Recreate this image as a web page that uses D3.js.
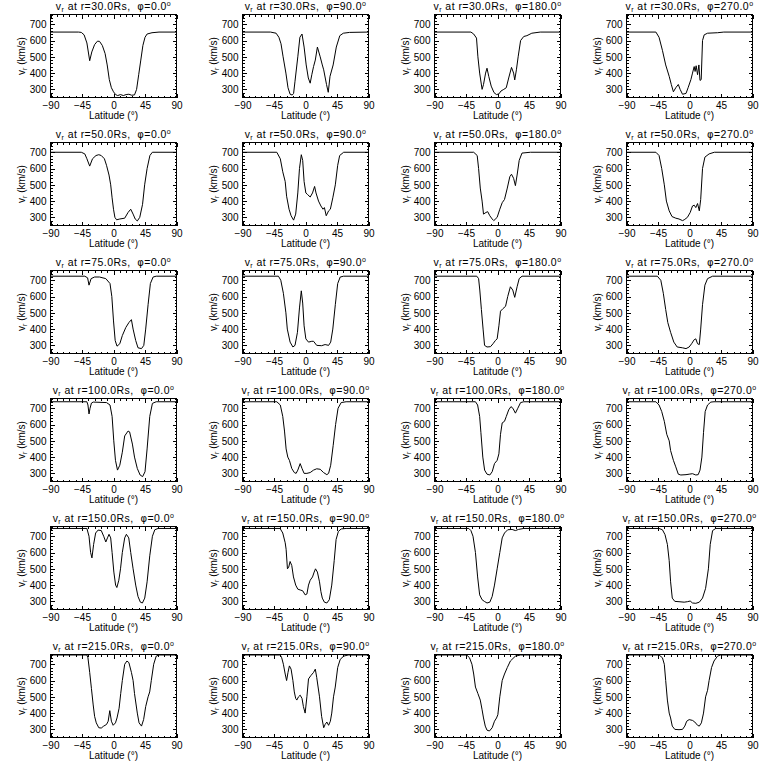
<!DOCTYPE html>
<html><head><meta charset="utf-8">
<script src="https://cdn.jsdelivr.net/npm/d3@7"></script>
<style>
body{margin:0;background:#fff}
svg{display:block}
text,tspan{font-family:"Liberation Sans",Arial,"DejaVu Sans",sans-serif;fill:#000}
</style>
</head><body>
<svg id="c" width="768" height="768"></svg>
<script>
const radii = [30, 50, 75, 100, 150, 215];
const phis = [0, 90, 180, 270];
const latTicks = [-90, -45, 0, 45, 90];
const vTicks = [300, 400, 500, 600, 700];
const latDomain = [-90, 90];
const vDomain = [250, 760];

// [latitude, v_r] samples
const r30_phi0 = [[-90,652],[-50,652],[-46,650],[-42,635],[-38,585],[-34,476],[-31,530],[-27,575],[-23,596],[-20,595],[-16,570],[-12,520],[-9,450],[-6,360],[-3,310],[0,285],[3,268],[6,262],[10,268],[14,262],[18,268],[22,270],[26,264],[30,266],[33,300],[36,390],[39,480],[42,570],[45,620],[48,640],[55,648],[65,652],[90,652]];
const r30_phi90 = [[-90,652],[-50,652],[-42,645],[-38,620],[-35,580],[-32,500],[-28,400],[-25,310],[-22,270],[-19,265],[-17,275],[-15,350],[-11,500],[-8,620],[-5,640],[-2,560],[1,450],[4,370],[6.7,338],[9,390],[11.5,440],[14,480],[17,560],[21,500],[24,450],[26,420],[30,330],[32.5,282],[35,380],[39.5,450],[44,560],[49,630],[54,645],[63,650],[90,652]];
const r30_phi180 = [[-90,652],[-38,652],[-34,640],[-30,615],[-28,500],[-25.5,400],[-22,300],[-20,330],[-17,400],[-15,430],[-12.5,380],[-9,320],[-5,280],[-1.5,268],[2,272],[5,290],[9,300],[12.5,310],[16,370],[20,435],[23,400],[24.6,358],[27,420],[29.5,500],[33,600],[37.5,625],[42,630],[49,645],[61,652],[90,652]];
const r30_phi270 = [[-90,652],[-48,652],[-43.5,620],[-38.7,540],[-34,450],[-29,380],[-26,330],[-23,285],[-19.6,310],[-16,330],[-13.4,300],[-10,270],[-5,275],[-2,310],[2,360],[4.3,400],[6.7,440],[8,410],[9.5,445],[11.5,390],[13.4,450],[15,355],[16.7,360],[18.6,600],[21,635],[25.8,645],[40,648],[49,652],[90,652]];

const r50_phi0 = [[-90,700],[-46,700],[-41,690],[-38,660],[-34,615],[-30,660],[-25,680],[-21,685],[-17.5,680],[-13,660],[-10,620],[-6.4,560],[-4,500],[-2,420],[0,350],[2,300],[4.4,285],[9,290],[16,295],[20.8,330],[24.6,350],[28,320],[31,290],[34,278],[37.5,300],[41.5,380],[44.5,500],[48,600],[52,680],[55.5,700],[90,700]];
const r50_phi90 = [[-90,700],[-41,700],[-36,660],[-32.5,580],[-29,520],[-27,430],[-23.5,350],[-20.6,310],[-17,283],[-14,320],[-11,450],[-8.6,600],[-6,685],[-4,650],[-2,520],[0.5,450],[3,440],[6.7,425],[10,450],[13,490],[15,450],[18.6,400],[22,370],[25,350],[27,360],[29.6,310],[33,340],[35.5,350],[39,420],[42.6,500],[46,620],[48.8,680],[54.5,700],[90,700]];
const r50_phi180 = [[-90,700],[-34,700],[-29,680],[-27,600],[-24.6,480],[-22,400],[-20,320],[-16.5,330],[-14,335],[-11,310],[-7.6,290],[-5.3,280],[-0.5,300],[3.3,350],[6.7,390],[10,410],[14,480],[17.6,550],[20,565],[23,540],[25.6,495],[28,560],[31,650],[35,695],[47,700],[90,700]];
const r50_phi270 = [[-90,700],[-48,700],[-43.5,680],[-39.7,600],[-36,500],[-33,400],[-29,340],[-25,305],[-19.6,295],[-15,290],[-10,280],[-7.6,285],[-3,300],[1,330],[4.3,370],[6.7,375],[9,360],[11.5,385],[14,340],[16,410],[18.6,600],[22,670],[28,690],[35.5,700],[90,700]];

const r75_phi0 = [[-90,725],[-41,725],[-37,715],[-35,670],[-32,710],[-27,720],[-20,720],[-11,710],[-5,680],[-2.4,600],[0,450],[2.4,330],[5,295],[9,310],[12.6,360],[17.6,410],[22,440],[25.6,458],[28,400],[31.7,330],[35,285],[40,280],[43.3,300],[46,400],[49.4,550],[52.7,680],[56.6,720],[61,725],[90,725]];
const r75_phi90 = [[-90,725],[-38.7,725],[-35.3,700],[-31.6,620],[-28,500],[-26,400],[-22,320],[-18,290],[-15,300],[-11.5,380],[-8.6,530],[-6,635],[-4,560],[-2,420],[0.5,340],[4.3,320],[9,325],[11.5,325],[16,300],[23,298],[28,305],[33,300],[36,320],[39,400],[42.6,550],[46,680],[49.6,720],[54.5,725],[90,725]];
const r75_phi180 = [[-90,725],[-29.6,725],[-27,710],[-25.3,640],[-23,520],[-20.6,400],[-18.5,300],[-15,290],[-10,292],[-6.4,310],[-3,330],[-0.5,340],[2,420],[4.3,510],[7.6,525],[11.5,540],[14.6,600],[18.4,660],[21.8,640],[24.6,595],[28,660],[31,710],[35,725],[90,725]];
const r75_phi270 = [[-90,725],[-46,725],[-41,700],[-37.4,620],[-34,520],[-31,440],[-27,380],[-22.4,320],[-17.6,290],[-10,285],[-5,280],[-0.5,290],[3,310],[6.7,335],[9,340],[11.5,310],[14,305],[16,400],[18.6,550],[22,670],[25.8,710],[33,725],[90,725]];

const r100_phi0 = [[-90,740],[-38,740],[-36.5,720],[-35,665],[-33.5,700],[-31.5,732],[-29,738],[-10,735],[-5,720],[-2,650],[0.4,500],[2.8,380],[5.7,320],[9,350],[12.6,430],[16,530],[20.8,560],[23,555],[27,480],[30,400],[34,330],[38,290],[41.6,280],[45,310],[48,450],[51.8,650],[55.6,730],[61,740],[90,740]];
const r100_phi90 = [[-90,740],[-41,740],[-36,720],[-32.5,650],[-30,560],[-27.7,450],[-25.3,400],[-23,380],[-19.6,330],[-16,305],[-13.4,300],[-11,320],[-7.6,360],[-5,330],[-2,300],[2,300],[6.7,305],[11.5,320],[16,328],[21,325],[25.8,305],[30.5,292],[33,300],[36,350],[39.5,470],[43,600],[46.5,700],[51,735],[58,740],[90,740]];
const r100_phi180 = [[-90,740],[-31.5,740],[-28.4,720],[-25.5,650],[-23.7,550],[-21,400],[-18.4,320],[-15,295],[-11,290],[-7.6,310],[-4.3,360],[-0.5,380],[2,420],[4.3,540],[6.7,610],[10,620],[12.6,650],[16,690],[19.2,710],[22,700],[25.6,670],[29,700],[33,735],[37.5,740],[90,740]];
const r100_phi270 = [[-90,740],[-48,740],[-43.5,720],[-39.7,680],[-36,620],[-32.5,540],[-29,500],[-27,440],[-23,380],[-19.6,340],[-16,295],[-12.4,290],[-5,292],[-0.5,295],[4.3,298],[9,290],[12.4,292],[15,320],[17.7,400],[20,550],[22.4,680],[25.8,720],[30.5,738],[35,740],[90,740]];

const r150_phi0 = [[-90,748],[-38,748],[-35,700],[-32.7,600],[-30.8,567],[-28.4,650],[-25.5,720],[-22,738],[-17.5,735],[-14,700],[-11,665],[-8.6,690],[-6.4,712],[-4,690],[-2,600],[0.5,480],[3,400],[4.8,385],[7.6,430],[10,500],[12.6,600],[16,690],[18.4,712],[21.8,690],[24.6,600],[28,500],[31.7,400],[35,330],[38.4,295],[41.3,290],[44.6,320],[48,420],[51.8,580],[55.6,700],[59,740],[63.7,748],[90,748]];
const r150_phi90 = [[-90,748],[-36.3,748],[-32.5,720],[-29,660],[-27.7,620],[-25.8,500],[-24,510],[-22,545],[-19.6,520],[-17.2,450],[-14,400],[-11,375],[-7.6,370],[-4,365],[-0.5,340],[2,345],[4.3,400],[6.7,430],[10,450],[12.4,480],[14.3,500],[17,480],[20,420],[22,360],[24,320],[27,295],[30.5,290],[34,310],[37.5,400],[41,550],[43.7,680],[47,730],[51,745],[58,748],[90,748]];
const r150_phi180 = [[-90,748],[-41,748],[-38,735],[-35,700],[-31.5,600],[-28.4,450],[-25.5,340],[-22,310],[-18.8,300],[-15,290],[-11,295],[-7.6,330],[-4.3,400],[-0.5,500],[3.3,600],[6.7,690],[10,720],[14.6,740],[20.8,742],[25.6,735],[30,742],[37.5,748],[90,748]];
const r150_phi270 = [[-90,748],[-43.5,748],[-38.7,740],[-35,710],[-31.6,650],[-29,550],[-27,420],[-24.6,320],[-21,300],[-15,298],[-7.6,295],[-3,298],[1,302],[4.3,290],[9,288],[14,295],[18.6,320],[23,380],[27,500],[29.6,650],[33,735],[37.5,748],[90,748]];

const r215_phi0 = [[-90,757],[-38,757],[-36.5,740],[-34,650],[-31.5,550],[-29,450],[-27,380],[-24.6,340],[-21,310],[-17.5,308],[-14,320],[-10,330],[-7.6,350],[-5.3,415],[-3,350],[-0.5,325],[2.8,340],[5,370],[8,430],[10.3,520],[12.6,600],[16,700],[19.2,720],[22,710],[25.6,650],[28,600],[30,520],[34,400],[36.5,340],[40,320],[43,360],[46,440],[49.4,500],[51.7,530],[54,600],[57.4,700],[61,750],[65,757],[90,757]];
const r215_phi90 = [[-90,757],[-36,757],[-34,740],[-31.6,700],[-29,640],[-27,600],[-25,650],[-23,690],[-20.6,670],[-18,600],[-16,530],[-14,490],[-12.4,480],[-10,500],[-7.6,510],[-5,490],[-3,440],[-0.5,400],[2,500],[4.3,610],[7.6,630],[11.5,650],[14,670],[16,620],[20,500],[23,380],[26,310],[28,330],[30.5,345],[33,325],[35.5,350],[37.5,400],[40,500],[42.5,560],[46,680],[49.6,730],[54.5,750],[61,757],[90,757]];
const r215_phi180 = [[-90,757],[-44,757],[-40,740],[-36.5,700],[-34,640],[-31.5,560],[-28,520],[-24.6,480],[-22,420],[-20,370],[-17.5,320],[-15,295],[-11.5,290],[-7.6,310],[-4.3,350],[-1.4,370],[0.5,390],[3.3,500],[6.7,600],[10,640],[14,680],[18.4,720],[25.6,750],[33,757],[90,757]];
const r215_phi270 = [[-90,757],[-43.5,757],[-38.7,740],[-36,700],[-34,600],[-31.6,480],[-29,400],[-27,370],[-24.6,320],[-21,300],[-15,298],[-10,300],[-6.7,320],[-4,350],[-0.5,360],[4.3,355],[7.6,345],[11.5,325],[14,320],[17,340],[20,400],[23,500],[25.8,540],[28,600],[31.5,680],[35,720],[40,750],[44.5,757],[90,757]];

const curves = [
  [r30_phi0, r30_phi90, r30_phi180, r30_phi270],
  [r50_phi0, r50_phi90, r50_phi180, r50_phi270],
  [r75_phi0, r75_phi90, r75_phi180, r75_phi270],
  [r100_phi0, r100_phi90, r100_phi180, r100_phi270],
  [r150_phi0, r150_phi90, r150_phi180, r150_phi270],
  [r215_phi0, r215_phi90, r215_phi180, r215_phi270]
];

const cellW = 192, cellH = 128, mL = 50.5, mT = 14.5, pw = 126, ph = 83;
const x = d3.scaleLinear().domain(latDomain).range([0, pw]);
const y = d3.scaleLinear().domain(vDomain).range([ph, 0]);
const latMinor = d3.range(-90, 90.01, 9).filter(v => !latTicks.includes(v));
const vMinor = d3.range(260, 760.01, 20).filter(v => !vTicks.includes(v));
const line = d3.line().x(d => x(d[0])).y(d => y(d[1]));
const svg = d3.select("#c");

radii.forEach((r, i) => phis.forEach((p, j) => {
  const g = svg.append("g").attr("transform", `translate(${j*cellW + mL},${i*cellH + mT})`);

  // axes (ticks inward, IDL box style)
  const ax = (axis, tx, ty) => {
    const a = g.append("g").attr("transform", `translate(${tx},${ty})`).call(axis);
    a.select(".domain").remove();
    a.selectAll("line").attr("stroke", "#000").attr("shape-rendering", "crispEdges");
    a.selectAll("text").attr("font-size", 10).attr("font-family", '"Liberation Sans",Arial,sans-serif').attr("fill", "#000");
    return a;
  };
  ax(d3.axisBottom(x).tickValues(latTicks).tickSize(-4).tickPadding(4).tickFormat(d3.format("d")), 0, ph);
  ax(d3.axisBottom(x).tickValues(latMinor).tickSize(-2).tickFormat(""), 0, ph);
  ax(d3.axisTop(x).tickValues(latTicks).tickSize(-4).tickFormat(""), 0, 0);
  ax(d3.axisTop(x).tickValues(latMinor).tickSize(-2).tickFormat(""), 0, 0);
  ax(d3.axisLeft(y).tickValues(vTicks).tickSize(-4).tickPadding(4).tickFormat(d3.format("d")), 0, 0);
  ax(d3.axisLeft(y).tickValues(vMinor).tickSize(-2).tickFormat(""), 0, 0);
  ax(d3.axisRight(y).tickValues(vTicks).tickSize(-4).tickFormat(""), pw, 0);
  ax(d3.axisRight(y).tickValues(vMinor).tickSize(-2).tickFormat(""), pw, 0);

  g.append("rect").attr("width", pw).attr("height", ph)
    .attr("fill", "none").attr("stroke", "#000").attr("shape-rendering", "crispEdges");

  g.append("path").datum(curves[i][j]).attr("d", line)
    .attr("fill", "none").attr("stroke", "#000").attr("stroke-width", 1);

  // title
  const t = g.append("text").attr("x", pw/2).attr("y", -5).attr("text-anchor", "middle")
    .attr("font-size", 10.5).attr("letter-spacing", 0.45).attr("fill", "#000");
  t.append("tspan").text("v");
  t.append("tspan").attr("font-size", 7).attr("dy", 2).text("r");
  t.append("tspan").attr("dy", -2).text(` at r=${r.toFixed(1)}Rs,\u00a0\u00a0`);
  t.append("tspan").attr("fill", "#000").style("fill", "#000")
    .style("font-family", '"DejaVu Sans",sans-serif').attr("font-size", 10).text("\u03c6");
  t.append("tspan").text(`=${p.toFixed(1)}`);
  t.append("tspan").attr("font-size", 7).attr("dy", -4).text("o");

  // x label
  g.append("text").attr("x", pw/2).attr("y", ph + 21).attr("text-anchor", "middle")
    .attr("font-size", 10).text("Latitude (\u00b0)");

  // y label
  const yl = g.append("text").attr("transform", `translate(${-26},${ph/2}) rotate(-90)`)
    .attr("text-anchor", "middle").attr("font-size", 10);
  yl.append("tspan").text("v");
  yl.append("tspan").attr("font-size", 7).attr("dy", 2).text("r");
  yl.append("tspan").attr("dy", -2).text(" (km/s)");
}));
</script>
</body></html>
